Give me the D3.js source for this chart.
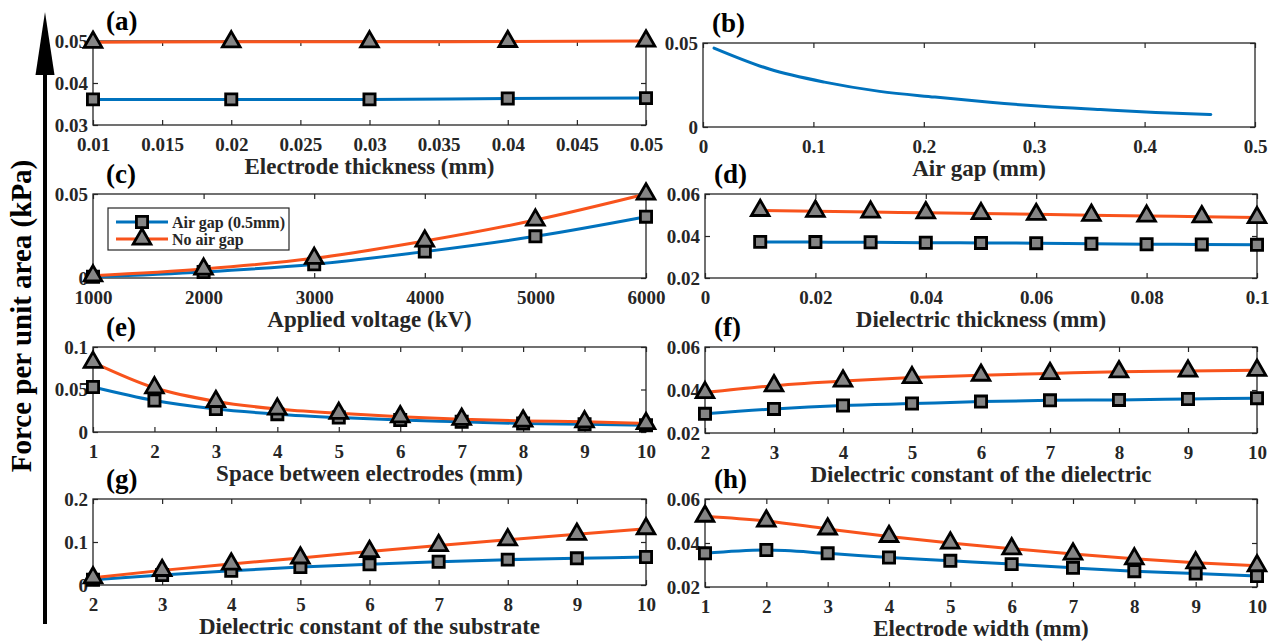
<!DOCTYPE html>
<html>
<head>
<meta charset="utf-8">
<script src="https://cdn.jsdelivr.net/npm/d3@7/dist/d3.min.js"></script>
<style>
  html, body { margin: 0; padding: 0; background: #ffffff; }
  svg { display: block; }
  text { font-family: "Liberation Serif", "Times New Roman", serif; font-weight: bold; }
</style>
</head>
<body>
<svg id="fig" width="1280" height="641"></svg>
<script>
// ---- data -------------------------------------------------------------
// (a) electrode thickness
const xA = [0.01, 0.02, 0.03, 0.04, 0.05];
const airA = [0.0361, 0.0361, 0.0361, 0.0363, 0.0364];
const noAirA = [0.0497, 0.0498, 0.0498, 0.0499, 0.0500];
const xTicksA = [0.01, 0.015, 0.02, 0.025, 0.03, 0.035, 0.04, 0.045, 0.05];
const xLabelsA = ["0.01", "0.015", "0.02", "0.025", "0.03", "0.035", "0.04", "0.045", "0.05"];
const yTicksA = [0.03, 0.04, 0.05];
const yLabelsA = ["0.03", "0.04", "0.05"];

// (b) air gap sweep
const xB = [0.01, 0.06, 0.11, 0.16, 0.21, 0.26, 0.31, 0.36, 0.41, 0.46];
const forceB = [0.0470, 0.0345, 0.0267, 0.0212, 0.0178, 0.0147, 0.0122, 0.0104, 0.0087, 0.0074];
const xTicksB = [0, 0.1, 0.2, 0.3, 0.4, 0.5];
const xLabelsB = ["0", "0.1", "0.2", "0.3", "0.4", "0.5"];
const yTicksB = [0, 0.05];
const yLabelsB = ["0", "0.05"];

// (c) applied voltage
const xC = [1000, 2000, 3000, 4000, 5000, 6000];
const airC = [0.0007, 0.0036, 0.0082, 0.0157, 0.0248, 0.0365];
const noAirC = [0.0013, 0.0053, 0.0117, 0.0220, 0.0345, 0.0500];
const xTicksC = [1000, 2000, 3000, 4000, 5000, 6000];
const xLabelsC = ["1000", "2000", "3000", "4000", "5000", "6000"];
const yTicksC = [0, 0.05];
const yLabelsC = ["0", "0.05"];

// (d) dielectric thickness
const xD = [0.01, 0.02, 0.03, 0.04, 0.05, 0.06, 0.07, 0.08, 0.09, 0.1];
const airD = [0.0372, 0.0371, 0.0370, 0.0368, 0.0367, 0.0366, 0.0363, 0.0361, 0.0360, 0.0358];
const noAirD = [0.0522, 0.0518, 0.0514, 0.0511, 0.0507, 0.0503, 0.0499, 0.0495, 0.0492, 0.0488];
const xTicksD = [0, 0.02, 0.04, 0.06, 0.08, 0.1];
const xLabelsD = ["0", "0.02", "0.04", "0.06", "0.08", "0.1"];
const yTicksD = [0.02, 0.04, 0.06];
const yLabelsD = ["0.02", "0.04", "0.06"];

// (e) space between electrodes
const xE = [1, 2, 3, 4, 5, 6, 7, 8, 9, 10];
const airE = [0.053, 0.037, 0.027, 0.021, 0.017, 0.014, 0.012, 0.010, 0.009, 0.008];
const noAirE = [0.082, 0.052, 0.036, 0.027, 0.022, 0.018, 0.015, 0.013, 0.012, 0.010];
const xTicksE = [1, 2, 3, 4, 5, 6, 7, 8, 9, 10];
const xLabelsE = ["1", "2", "3", "4", "5", "6", "7", "8", "9", "10"];
const yTicksE = [0, 0.05, 0.1];
const yLabelsE = ["0", "0.05", "0.1"];

// (f) dielectric constant of the dielectric
const xF = [2, 3, 4, 5, 6, 7, 8, 9, 10];
const airF = [0.0289, 0.0312, 0.0328, 0.0337, 0.0346, 0.0352, 0.0354, 0.0358, 0.0362];
const noAirF = [0.0388, 0.0420, 0.0442, 0.0458, 0.0469, 0.0477, 0.0485, 0.0488, 0.0492];
const xTicksF = [2, 3, 4, 5, 6, 7, 8, 9, 10];
const xLabelsF = ["2", "3", "4", "5", "6", "7", "8", "9", "10"];
const yTicksF = [0.02, 0.04, 0.06];
const yLabelsF = ["0.02", "0.04", "0.06"];

// (g) dielectric constant of the substrate
const xG = [2, 3, 4, 5, 6, 7, 8, 9, 10];
const airG = [0.012, 0.023, 0.033, 0.042, 0.048, 0.054, 0.059, 0.062, 0.065];
const noAirG = [0.017, 0.034, 0.049, 0.063, 0.078, 0.092, 0.105, 0.118, 0.131];
const xTicksG = [2, 3, 4, 5, 6, 7, 8, 9, 10];
const xLabelsG = ["2", "3", "4", "5", "6", "7", "8", "9", "10"];
const yTicksG = [0, 0.1, 0.2];
const yLabelsG = ["0", "0.1", "0.2"];

// (h) electrode width
const xH = [1, 2, 3, 4, 5, 6, 7, 8, 9, 10];
const airH = [0.0353, 0.0368, 0.0353, 0.0334, 0.0319, 0.0304, 0.0287, 0.0272, 0.0261, 0.0250];
const noAirH = [0.0522, 0.0500, 0.0464, 0.0430, 0.0400, 0.0374, 0.0350, 0.0328, 0.0310, 0.0297];
const xTicksH = [1, 2, 3, 4, 5, 6, 7, 8, 9, 10];
const xLabelsH = ["1", "2", "3", "4", "5", "6", "7", "8", "9", "10"];
const yTicksH = [0.02, 0.04, 0.06];
const yLabelsH = ["0.02", "0.04", "0.06"];

const seriesNames = ["Air gap (0.5mm)", "No air gap"];
const yAxisTitle = "Force per unit area (kPa)";

// ---- styling -----------------------------------------------------------
const BLUE = "#0072BD";
const ORANGE = "#F8531C";
const AXIS = "#262626";
const MARKER_FILL = "#858585";

const svg = d3.select("#fig");

// panel frames (pixel boxes)
const LEFT = { x0: 93, x1: 646 };
const RIGHT = { x0: 705, x1: 1257 };

const panels = [
  { tag: "(a)", col: LEFT,  y0: 41,  y1: 125, xd: [0.01, 0.05], yd: [0.03, 0.05], x: xA, air: airA, noAir: noAirA,
    xt: xTicksA, xl: xLabelsA, yt: yTicksA, yl: yLabelsA, title: "Electrode thickness (mm)" },
  { tag: "(b)", col: { x0: 703, x1: 1255 }, y0: 43, y1: 127, xd: [0, 0.5], yd: [0, 0.05], x: xB, single: forceB,
    xt: xTicksB, xl: xLabelsB, yt: yTicksB, yl: yLabelsB, title: "Air gap (mm)" },
  { tag: "(c)", col: LEFT,  y0: 194, y1: 278, xd: [1000, 6000], yd: [0, 0.05], x: xC, air: airC, noAir: noAirC,
    xt: xTicksC, xl: xLabelsC, yt: yTicksC, yl: yLabelsC, title: "Applied voltage (kV)", legend: true },
  { tag: "(d)", col: RIGHT, y0: 194, y1: 278, xd: [0, 0.1], yd: [0.02, 0.06], x: xD, air: airD, noAir: noAirD,
    xt: xTicksD, xl: xLabelsD, yt: yTicksD, yl: yLabelsD, title: "Dielectric thickness (mm)" },
  { tag: "(e)", col: LEFT,  y0: 347, y1: 432, xd: [1, 10], yd: [0, 0.1], x: xE, air: airE, noAir: noAirE,
    xt: xTicksE, xl: xLabelsE, yt: yTicksE, yl: yLabelsE, title: "Space between electrodes (mm)" },
  { tag: "(f)", col: RIGHT, y0: 347, y1: 433, xd: [2, 10], yd: [0.02, 0.06], x: xF, air: airF, noAir: noAirF,
    xt: xTicksF, xl: xLabelsF, yt: yTicksF, yl: yLabelsF, title: "Dielectric constant of the dielectric" },
  { tag: "(g)", col: LEFT,  y0: 499, y1: 585, xd: [2, 10], yd: [0, 0.2], x: xG, air: airG, noAir: noAirG,
    xt: xTicksG, xl: xLabelsG, yt: yTicksG, yl: yLabelsG, title: "Dielectric constant of the substrate" },
  { tag: "(h)", col: RIGHT, y0: 499, y1: 587, xd: [1, 10], yd: [0.02, 0.06], x: xH, air: airH, noAir: noAirH,
    xt: xTicksH, xl: xLabelsH, yt: yTicksH, yl: yLabelsH, title: "Electrode width (mm)" }
];

const squareSym = d3.symbol().type(d3.symbolSquare).size(125);
const triangleSym = d3.symbol().type(d3.symbolTriangle).size(135);

function drawMarkers(g, pts, sym) {
  g.selectAll(null).data(pts).join("path")
    .attr("d", sym)
    .attr("transform", d => `translate(${d[0]},${d[1]})`)
    .attr("fill", MARKER_FILL)
    .attr("stroke", "#000")
    .attr("stroke-width", 2.8)
    .attr("stroke-linejoin", "miter");
}

function drawPanel(p) {
  const x = d3.scaleLinear().domain(p.xd).range([p.col.x0, p.col.x1]);
  const y = d3.scaleLinear().domain(p.yd).range([p.y1, p.y0]);
  const g = svg.append("g");

  // frame
  g.append("rect")
    .attr("x", p.col.x0).attr("y", p.y0)
    .attr("width", p.col.x1 - p.col.x0).attr("height", p.y1 - p.y0)
    .attr("fill", "none").attr("stroke", AXIS).attr("stroke-width", 1.3);

  const styleAxis = sel => {
    sel.select(".domain").remove();
    sel.selectAll(".tick line").attr("stroke", AXIS).attr("stroke-width", 1.2);
    sel.selectAll("text").attr("fill", AXIS).style("font-size", "19px")
      .style("font-family", '"Liberation Serif", "Times New Roman", serif').style("font-weight", "bold");
  };

  // bottom axis with labels, ticks pointing inward
  const bottom = g.append("g").attr("transform", `translate(0,${p.y1})`)
    .call(d3.axisBottom(x).tickValues(p.xt).tickFormat((d, i) => p.xl[i]).tickSize(-5).tickSizeOuter(0));
  styleAxis(bottom);
  bottom.selectAll("text").attr("y", 26).attr("dy", null);

  // mirrored top ticks
  const top = g.append("g").attr("transform", `translate(0,${p.y0})`)
    .call(d3.axisTop(x).tickValues(p.xt).tickFormat("").tickSize(-5).tickSizeOuter(0));
  styleAxis(top);

  // left axis with labels
  const left = g.append("g").attr("transform", `translate(${p.col.x0},0)`)
    .call(d3.axisLeft(y).tickValues(p.yt).tickFormat((d, i) => p.yl[i]).tickSize(-5).tickSizeOuter(0));
  styleAxis(left);
  left.selectAll("text").attr("x", -5).attr("dy", "0.33em");

  // mirrored right ticks
  const right = g.append("g").attr("transform", `translate(${p.col.x1},0)`)
    .call(d3.axisRight(y).tickValues(p.yt).tickFormat("").tickSize(-5).tickSizeOuter(0));
  styleAxis(right);

  const line = d3.line().x(d => x(d[0])).y(d => y(d[1])).curve(d3.curveMonotoneX);

  if (p.single) {
    const pts = p.x.map((v, i) => [v, p.single[i]]);
    g.append("path").attr("d", line(pts)).attr("fill", "none")
      .attr("stroke", BLUE).attr("stroke-width", 3).attr("stroke-linecap", "round");
  } else {
    const airPts = p.x.map((v, i) => [v, p.air[i]]);
    const noAirPts = p.x.map((v, i) => [v, p.noAir[i]]);
    g.append("path").attr("d", line(airPts)).attr("fill", "none")
      .attr("stroke", BLUE).attr("stroke-width", 3);
    g.append("path").attr("d", line(noAirPts)).attr("fill", "none")
      .attr("stroke", ORANGE).attr("stroke-width", 3);
    drawMarkers(g, airPts.map(d => [x(d[0]), y(d[1])]), squareSym);
    drawMarkers(g, noAirPts.map(d => [x(d[0]), y(d[1])]), triangleSym);
  }

  // panel tag
  const tagOffset = p.col.x0 < 400 ? 13 : 9;
  g.append("text").attr("x", p.col.x0 + tagOffset).attr("y", p.y0 - 11)
    .attr("fill", "#000").style("font-size", "27px").text(p.tag);

  // x-axis title
  g.append("text").attr("x", (p.col.x0 + p.col.x1) / 2).attr("y", p.y1 + 49)
    .attr("text-anchor", "middle").attr("fill", AXIS).style("font-size", "23px").text(p.title);

  if (p.legend) {
    const lg = g.append("g");
    lg.append("rect").attr("x", 108).attr("y", 208).attr("width", 181).attr("height", 42)
      .attr("fill", "#fff").attr("stroke", AXIS).attr("stroke-width", 1.2);
    const rows = [
      { name: seriesNames[0], color: BLUE, sym: squareSym, yy: 222 },
      { name: seriesNames[1], color: ORANGE, sym: triangleSym, yy: 239 }
    ];
    rows.forEach(r => {
      lg.append("line").attr("x1", 116).attr("x2", 168).attr("y1", r.yy).attr("y2", r.yy)
        .attr("stroke", r.color).attr("stroke-width", 3);
      drawMarkers(lg, [[142, r.yy]], r.sym);
      lg.append("text").attr("x", 172).attr("y", r.yy).attr("dy", "0.35em")
        .attr("fill", AXIS).style("font-size", "16px").text(r.name);
    });
  }
}

panels.forEach(drawPanel);

// ---- shared y-axis arrow and title --------------------------------------
const arrow = svg.append("g");
arrow.append("line").attr("x1", 45).attr("x2", 45).attr("y1", 624).attr("y2", 60)
  .attr("stroke", "#000").attr("stroke-width", 4);
arrow.append("path").attr("d", "M45,12 L54.5,75 L35.5,75 Z").attr("fill", "#000");

svg.append("text")
  .attr("transform", "translate(31,316) rotate(-90)")
  .attr("text-anchor", "middle").attr("fill", "#000")
  .style("font-size", "29px").text(yAxisTitle);
</script>
</body>
</html>
